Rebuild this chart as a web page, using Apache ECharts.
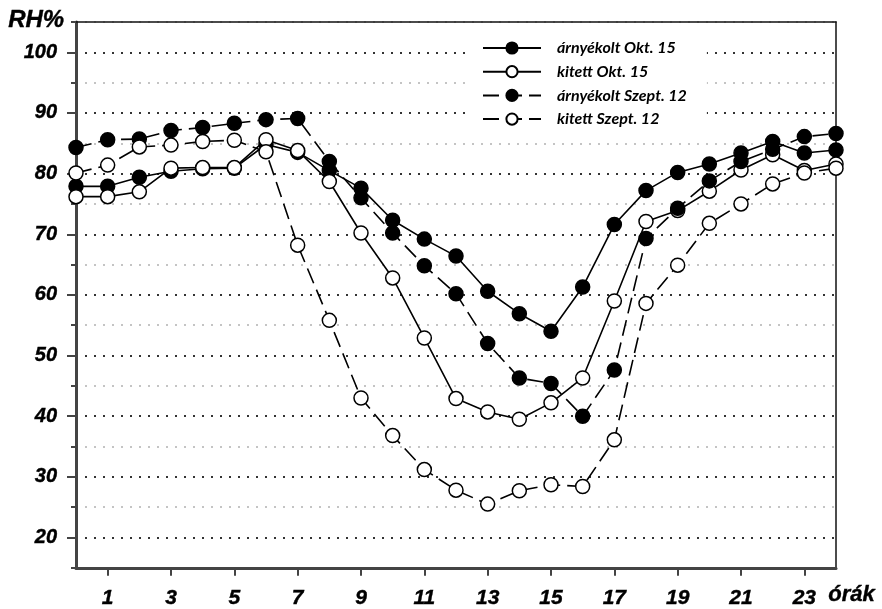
<!DOCTYPE html>
<html>
<head>
<meta charset="utf-8">
<script src="https://cdn.jsdelivr.net/npm/echarts@6/dist/echarts.min.js"></script>
<style>
  html, body { margin: 0; padding: 0; background: #fff; }
  #chart { width: 882px; height: 609px; }
</style>
</head>
<body>
<div id="chart"></div>
<script>
// Hours of the day (x categories)
const hours = ['0','1','2','3','4','5','6','7','8','9','10','11','12',
               '13','14','15','16','17','18','19','20','21','22','23','24'];
// Hour labels shown under the axis
const xTickLabels = ['1','3','5','7','9','11','13','15','17','19','21','23'];
// RH% axis labels (major ticks)
const yTickLabels = [20, 30, 40, 50, 60, 70, 80, 90, 100];

const seriesNames = ['árnyékolt Okt. 15', 'kitett Okt. 15', 'árnyékolt Szept. 12', 'kitett Szept. 12'];

// Relative humidity (%) per hour
const shadedOct = [77.9, 77.9, 79.4, 80.4, 80.8, 80.9, 84.8, 83.5, 80.5, 77.6, 72.3, 69.2, 66.4,
                   60.6, 56.9, 54.0, 61.3, 71.6, 77.2, 80.2, 81.6, 83.4, 85.3, 83.4, 83.9];
const exposedOct = [76.2, 76.2, 77.0, 80.9, 81.0, 81.0, 85.6, 83.8, 78.7, 70.2, 62.8, 52.9, 42.9,
                    40.7, 39.5, 42.2, 46.3, 59.0, 72.1, 73.9, 77.1, 80.6, 83.1, 80.5, 81.6];
const shadedSep = [84.3, 85.6, 85.7, 87.1, 87.6, 88.3, 88.9, 89.1, 82.0, 76.0, 70.2, 64.8, 60.2,
                   52.0, 46.3, 45.4, 40.0, 47.6, 69.3, 74.3, 78.8, 82.0, 84.0, 86.1, 86.6];
const exposedSep = [80.1, 81.4, 84.4, 84.7, 85.3, 85.5, 83.6, 68.2, 55.8, 43.0, 36.8, 31.2, 27.8,
                    25.5, 27.7, 28.7, 28.4, 36.1, 58.6, 64.9, 71.8, 75.0, 78.3, 80.1, 80.9];

const AXIS_FONT = "'Liberation Sans', Arial, sans-serif";
const Y_MIN = 15, Y_MAX = 105;

const axisText = {
  fontFamily: AXIS_FONT, fontStyle: 'italic', fontWeight: 'bold', color: '#000',
  textBorderColor: '#000', textBorderWidth: 0.4
};

function lineSeries(name, data, filled, dashed) {
  return {
    name: name,
    type: 'line',
    data: data,
    symbol: 'circle',
    symbolSize: 14,
    showSymbol: true,
    lineStyle: { color: '#000', width: 1.6, type: dashed ? [16, 7] : 'solid' },
    itemStyle: { color: filled ? '#000' : '#fff', borderColor: '#000', borderWidth: 1.5 },
    emphasis: { disabled: true },
    animation: false
  };
}

const chart = echarts.init(document.getElementById('chart'), null, { renderer: 'canvas' });

chart.setOption({
  backgroundColor: '#fff',
  animation: false,
  grid: { left: 76, right: 46, top: 22, bottom: 41, show: false },
  legend: {
    orient: 'vertical',
    left: 470, top: 32,
    padding: [8, 20, 8, 12],
    backgroundColor: '#fff',
    itemWidth: 58, itemHeight: 14, itemGap: 7.7,
    data: seriesNames,
    textStyle: {
      fontFamily: 'Lato, "Open Sans", sans-serif',
      fontStyle: 'italic', fontWeight: 'bold', fontSize: 16,
      color: '#000', lineHeight: 14, padding: [0, 0, 0, 11]
    },
    selectedMode: false
  },
  xAxis: [{
    type: 'category',
    data: hours,
    boundaryGap: false,
    axisLine: { show: true, lineStyle: { color: '#444', width: 3 } },
    axisTick: {
      show: true, inside: false, length: 8,
      interval: function (i, v) { return xTickLabels.indexOf(v) >= 0; },
      lineStyle: { color: '#444', width: 2 }
    },
    axisLabel: Object.assign({
      interval: function (i, v) { return xTickLabels.indexOf(v) >= 0; },
      margin: 20, fontSize: 21
    }, axisText),
    splitLine: { show: false }
  }, {
    // top frame line
    type: 'category',
    data: hours,
    boundaryGap: false,
    position: 'top',
    axisLine: { show: true, lineStyle: { color: '#111', width: 1.5 } },
    axisTick: { show: false },
    axisLabel: { show: false },
    splitLine: { show: false }
  }],
  yAxis: [{
    type: 'value',
    min: Y_MIN, max: Y_MAX, interval: 5,
    axisLine: { show: true, lineStyle: { color: '#444', width: 3 } },
    axisTick: { show: true, length: 5, lineStyle: { color: '#444', width: 2 } },
    axisLabel: Object.assign({
      margin: 19, fontSize: 20,
      formatter: function (v) { return yTickLabels.indexOf(v) >= 0 ? String(v) : ''; }
    }, axisText),
    splitLine: {
      show: true,
      lineStyle: { color: ['#c4c4c4', '#333'], width: 2, type: [2, 7] }
    }
  }, {
    // longer ticks at the labelled values
    type: 'value',
    min: Y_MIN, max: Y_MAX,
    position: 'left',
    axisLine: { show: false },
    axisTick: { show: true, length: 9, customValues: yTickLabels, lineStyle: { color: '#444', width: 2 } },
    axisLabel: { show: false },
    splitLine: { show: false }
  }, {
    // right frame line
    type: 'value',
    min: Y_MIN, max: Y_MAX,
    position: 'right',
    axisLine: { show: true, lineStyle: { color: '#111', width: 1.5 } },
    axisTick: { show: false },
    axisLabel: { show: false },
    splitLine: { show: false }
  }],
  graphic: [
    {
      type: 'text', left: 8, top: 8,
      style: {
        text: 'RH%', fill: '#000', stroke: '#000', lineWidth: 0.4,
        font: "italic bold 24px 'Liberation Sans', Arial, sans-serif"
      }
    },
    {
      type: 'text', left: 828, top: 584,
      style: {
        text: 'órák', fill: '#000', stroke: '#000', lineWidth: 0.4,
        font: "italic bold 22px 'Liberation Sans', Arial, sans-serif"
      }
    }
  ],
  series: [
    lineSeries(seriesNames[0], shadedOct, true, false),
    lineSeries(seriesNames[1], exposedOct, false, false),
    lineSeries(seriesNames[2], shadedSep, true, true),
    lineSeries(seriesNames[3], exposedSep, false, true)
  ]
});
</script>
</body>
</html>
